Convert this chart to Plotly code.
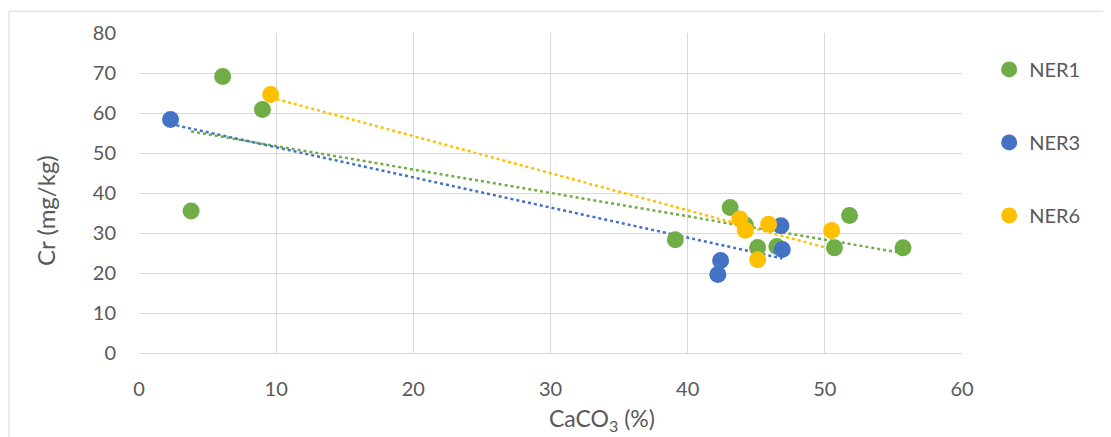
import numpy as np
import plotly.graph_objects as go

# NER1 / NER3 / NER6 : CaCO3 (%) vs Cr (mg/kg)
ner1_x = [6.1, 9.0, 3.8, 43.1, 39.1, 51.8, 45.1, 46.5, 50.7, 55.7, 44.2]
ner1_y = [69.1, 60.9, 35.5, 36.4, 28.3, 34.4, 26.4, 26.6, 26.3, 26.3, 32.0]

ner3_x = [2.3, 46.8, 46.9, 42.4, 42.2]
ner3_y = [58.4, 31.8, 25.9, 23.1, 19.6]

ner6_x = [9.6, 43.8, 44.2, 45.9, 45.1, 50.5]
ner6_y = [64.6, 33.5, 30.7, 32.2, 23.3, 30.6]

series = [
    ("NER1", ner1_x, ner1_y, "#70AD47"),
    ("NER3", ner3_x, ner3_y, "#4472C4"),
    ("NER6", ner6_x, ner6_y, "#FFC000"),
]

FONT = "Lato, Carlito, Calibri, sans-serif"
TXT = "#595959"
GRID = "#d9d9d9"

fig = go.Figure()

for name, xs, ys, color in series:
    # Linear trendline, like Excel's
    slope, intercept = np.polyfit(xs, ys, 1)
    tx = [min(xs), max(xs)]
    ty = [slope * v + intercept for v in tx]
    fig.add_trace(go.Scatter(
        x=tx, y=ty, mode="lines",
        line=dict(color=color, width=2.5, dash="dot"),
        showlegend=False, hoverinfo="skip",
    ))

for name, xs, ys, color in series:
    fig.add_trace(go.Scatter(
        x=xs, y=ys, mode="markers", name=name,
        legendgroup=name,
        marker=dict(color=color, size=17, line=dict(width=0)),
    ))

# page body has an 8px margin, so the figure is a bit smaller than the window
fig.update_layout(
    width=1103, height=429,
    paper_bgcolor="white", plot_bgcolor="white",
    font=dict(family=FONT, color=TXT, size=20),
    margin=dict(l=131, r=149, t=23, b=84),
    showlegend=True,
    legend=dict(
        x=1.033, xanchor="left", y=0.947, yanchor="top",
        font=dict(size=20, color=TXT),
        tracegroupgap=44, itemwidth=30,
    ),
    shapes=[dict(
        type="rect", xref="paper", yref="paper",
        x0=-0.158, x1=1.3, y0=-0.4, y1=1.068,
        line=dict(color=GRID, width=1), layer="below",
    )],
    # axis titles sit off-centre in the original, so place them by hand
    annotations=[
        dict(text="CaCO<sub>3</sub> (%)", xref="paper", yref="paper",
             x=0.5626, y=-0.208, xanchor="center", yanchor="middle",
             showarrow=False, font=dict(size=23, color=TXT)),
        dict(text="Cr (mg/kg)", xref="paper", yref="paper", textangle=-90,
             x=-0.113, y=0.444, xanchor="center", yanchor="middle",
             showarrow=False, font=dict(size=24, color=TXT)),
    ],
)

fig.update_xaxes(
    range=[0, 60], dtick=10, showgrid=True, gridcolor=GRID, gridwidth=1.3,
    zeroline=False, showline=True, linecolor=GRID, linewidth=1.3,
    ticks="", ticklabelstandoff=18, tickfont=dict(size=20, color=TXT),
)
fig.update_yaxes(
    range=[0, 80], dtick=10, showgrid=True, gridcolor=GRID, gridwidth=1.3,
    zeroline=False, showline=False,
    ticks="", ticklabelstandoff=22, tickfont=dict(size=20, color=TXT),
)

fig.write_html("out.html")
